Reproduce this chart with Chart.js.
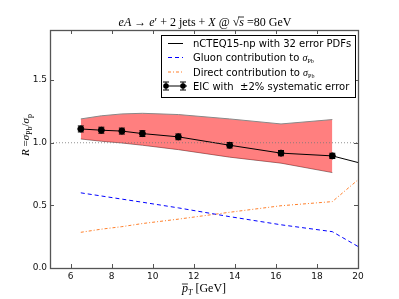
<!DOCTYPE html>
<html>
<head>
<meta charset="utf-8">
<script src="https://cdn.jsdelivr.net/npm/chart.js@4"></script>
<style>
  body { margin: 0; background: #fff; }
  canvas { display: block; }
</style>
</head>
<body>
<canvas id="chart" width="399" height="299"></canvas>
<script>
// pT bin centres and the ratio curves
const ptBins = [6.5, 7.5, 8.5, 9.5, 11.25, 13.75, 16.25, 18.75];
const ptLine = [6.5, 7.5, 8.5, 9.5, 11.25, 13.75, 16.25, 18.75, 20];
const rCentral = [1.11, 1.10, 1.093, 1.073, 1.047, 0.98, 0.917, 0.895, 0.842];
const rUpper = [1.19, 1.215, 1.23, 1.235, 1.225, 1.19, 1.15, 1.185];
const rLower = [1.03, 1.012, 0.998, 0.98, 0.945, 0.885, 0.837, 0.762];
const gluon = [0.6, 0.575, 0.55, 0.525, 0.48, 0.41, 0.345, 0.29, 0.172];
const direct = [0.285, 0.31, 0.33, 0.355, 0.39, 0.445, 0.497, 0.53, 0.704];
const eicR = [1.11, 1.10, 1.093, 1.073, 1.047, 0.98, 0.917, 0.895];
const eicErr = [0.024, 0.024, 0.024, 0.023, 0.023, 0.022, 0.021, 0.021];
const xTicks = [6, 8, 10, 12, 14, 16, 18, 20];
const yTicks = [0, 0.5, 1.0, 1.5];

const SERIF = '"Liberation Serif", "DejaVu Serif", serif';
const SANS = '"DejaVu Sans", sans-serif';

const pts = (xs, ys) => xs.map((x, i) => ({ x: x, y: ys[i] }));

// draw a run of text pieces (italic / sub / overline) one after another
function drawRich(ctx, segs, x, y, align) {
  let total = 0;
  segs.forEach(s => {
    ctx.font = s.font;
    s.w = ctx.measureText(s.t).width;
    total += s.w;
  });
  let cx = align === 'center' ? x - total / 2 : x;
  segs.forEach(s => {
    ctx.font = s.font;
    ctx.fillText(s.t, cx, y + (s.dy || 0));
    if (s.over) {
      ctx.beginPath();
      ctx.moveTo(cx - (s.overPad || 0), y + s.over);
      ctx.lineTo(cx + s.w, y + s.over);
      ctx.lineWidth = 0.8;
      ctx.stroke();
    }
    cx += s.w;
  });
}

const decor = {
  id: 'decor',
  afterDatasetsDraw(chart) {
    const { ctx, chartArea: a, scales: { x, y } } = chart;
    ctx.save();
    // dotted line at R = 1
    ctx.strokeStyle = '#777';
    ctx.lineWidth = 0.8;
    ctx.setLineDash([1, 2]);
    ctx.beginPath();
    ctx.moveTo(a.left, y.getPixelForValue(1));
    ctx.lineTo(a.right, y.getPixelForValue(1));
    ctx.stroke();
    ctx.setLineDash([]);

    // error bars on EIC points
    ctx.strokeStyle = '#000';
    ctx.lineWidth = 1;
    ptBins.forEach((v, i) => {
      const px = x.getPixelForValue(v);
      const y1 = y.getPixelForValue(eicR[i] + eicErr[i]);
      const y2 = y.getPixelForValue(eicR[i] - eicErr[i]);
      ctx.beginPath();
      ctx.moveTo(px, y1); ctx.lineTo(px, y2);
      ctx.moveTo(px - 3, y1); ctx.lineTo(px + 3, y1);
      ctx.moveTo(px - 3, y2); ctx.lineTo(px + 3, y2);
      ctx.stroke();
    });
    ctx.restore();
  },
  afterDraw(chart) {
    const { ctx, chartArea: a, scales: { x, y } } = chart;
    ctx.save();
    // frame
    ctx.strokeStyle = '#555';
    ctx.lineWidth = 1.3;
    ctx.strokeRect(a.left + 0.5, a.top + 0.5, a.right - a.left, a.bottom - a.top);
    // inward ticks on all four sides
    ctx.lineWidth = 1;
    ctx.beginPath();
    xTicks.forEach(v => {
      const px = Math.round(x.getPixelForValue(v)) + 0.5;
      ctx.moveTo(px, a.bottom); ctx.lineTo(px, a.bottom - 4);
      ctx.moveTo(px, a.top); ctx.lineTo(px, a.top + 4);
    });
    yTicks.forEach(v => {
      const py = Math.round(y.getPixelForValue(v)) + 0.5;
      ctx.moveTo(a.left, py); ctx.lineTo(a.left + 4, py);
      ctx.moveTo(a.right, py); ctx.lineTo(a.right - 4, py);
    });
    ctx.stroke();

    ctx.fillStyle = '#000';
    ctx.strokeStyle = '#000';
    ctx.textBaseline = 'alphabetic';

    // title
    const rm = '12px ' + SERIF;
    const iti = 'italic 12px ' + SERIF;
    drawRich(ctx, [
      { t: 'eA', font: iti }, { t: ' → ', font: rm }, { t: 'e', font: iti }, { t: '′', font: rm },
      { t: ' + 2 jets + ', font: rm }, { t: 'X', font: iti }, { t: ' @ ', font: rm },
      { t: '√', font: rm }, { t: 's', font: iti, over: -9, overPad: 1 }, { t: ' =80 GeV', font: rm }
    ], 205, 26, 'center');

    // x label
    drawRich(ctx, [
      { t: 'p', font: 'italic 12px ' + SERIF, over: -8 }, { t: 'T', font: 'italic 8px ' + SERIF, dy: 3 },
      { t: ' [GeV]', font: '12px ' + SERIF }
    ], 204, 292, 'center');

    // y label (rotated)
    ctx.save();
    ctx.translate(29, 135);
    ctx.rotate(-Math.PI / 2);
    drawRich(ctx, [
      { t: 'R', font: 'italic 11px ' + SERIF }, { t: ' =', font: '11px ' + SERIF },
      { t: 'σ', font: 'italic 11px ' + SERIF }, { t: 'Pb', font: '8px ' + SERIF, dy: 3 },
      { t: '/', font: '11px ' + SERIF },
      { t: 'σ', font: 'italic 11px ' + SERIF }, { t: 'p', font: '8px ' + SERIF, dy: 3 }
    ], 0, 0, 'center');
    ctx.restore();

    // legend
    const lx = 161, ly = 35, lw = 194, lh = 62;
    ctx.fillStyle = '#fff';
    ctx.fillRect(lx, ly, lw, lh);
    ctx.strokeStyle = '#000';
    ctx.lineWidth = 1;
    ctx.strokeRect(lx + 0.5, ly + 0.5, lw, lh);
    const rows = [43.5, 57.5, 72, 86];
    const hx1 = 168, hx2 = 183, tx = 193;
    // solid
    ctx.strokeStyle = '#000';
    ctx.beginPath(); ctx.moveTo(hx1, rows[0]); ctx.lineTo(hx2, rows[0]); ctx.stroke();
    // dashed
    ctx.strokeStyle = '#0000ff';
    ctx.setLineDash([4, 3]);
    ctx.beginPath(); ctx.moveTo(hx1, rows[1]); ctx.lineTo(hx2, rows[1]); ctx.stroke();
    // dash dot
    ctx.strokeStyle = '#ff7f2a';
    ctx.setLineDash([3, 2, 1, 2]);
    ctx.beginPath(); ctx.moveTo(hx1, rows[2]); ctx.lineTo(hx2, rows[2]); ctx.stroke();
    ctx.setLineDash([]);
    // errorbar markers
    ctx.strokeStyle = '#000';
    ctx.fillStyle = '#000';
    ctx.beginPath(); ctx.moveTo(hx1 - 4, rows[3]); ctx.lineTo(hx2 + 4, rows[3]); ctx.stroke();
    [hx1 - 2, hx2].forEach(px => {
      ctx.beginPath();
      ctx.moveTo(px, rows[3] - 4); ctx.lineTo(px, rows[3] + 4);
      ctx.moveTo(px - 3, rows[3] - 4); ctx.lineTo(px + 3, rows[3] - 4);
      ctx.moveTo(px - 3, rows[3] + 4); ctx.lineTo(px + 3, rows[3] + 4);
      ctx.stroke();
      ctx.beginPath(); ctx.arc(px, rows[3], 2.8, 0, Math.PI * 2); ctx.fill();
    });

    const lf = '10px ' + SANS;
    const sig = 'italic 10px ' + SERIF, sub = '6px ' + SERIF;
    drawRich(ctx, [{ t: 'nCTEQ15-np with 32 error PDFs', font: lf }], tx, rows[0] + 3.5);
    drawRich(ctx, [{ t: 'Gluon contribution to ', font: lf }, { t: 'σ', font: sig }, { t: 'Pb', font: sub, dy: 2 }], tx, rows[1] + 3.5);
    drawRich(ctx, [{ t: 'Direct contribution to ', font: lf }, { t: 'σ', font: sig }, { t: 'Pb', font: sub, dy: 2 }], tx, rows[2] + 3.5);
    drawRich(ctx, [{ t: 'EIC with  ±2% systematic error', font: lf }], tx, rows[3] + 3.5);
    ctx.restore();
  }
};

new Chart(document.getElementById('chart'), {
  type: 'line',
  data: {
    datasets: [
      {
        label: 'upper',
        data: pts(ptBins, rUpper),
        borderColor: '#888',
        borderWidth: 1,
        pointRadius: 0,
        fill: '+1',
        backgroundColor: 'rgba(255,0,0,0.5)',
        order: 5
      },
      {
        label: 'lower',
        data: pts(ptBins, rLower),
        borderColor: '#888',
        borderWidth: 1,
        pointRadius: 0,
        fill: false,
        order: 5
      },
      {
        label: 'nCTEQ15-np with 32 error PDFs',
        data: pts(ptLine, rCentral),
        borderColor: '#000',
        borderWidth: 1,
        pointRadius: 0,
        fill: false,
        order: 2
      },
      {
        label: 'Gluon contribution',
        data: pts(ptLine, gluon),
        borderColor: '#0000ff',
        borderWidth: 1,
        borderDash: [4, 3],
        pointRadius: 0,
        fill: false,
        order: 3
      },
      {
        label: 'Direct contribution',
        data: pts(ptLine, direct),
        borderColor: '#ff7f2a',
        borderWidth: 1,
        borderDash: [3, 2, 1, 2],
        pointRadius: 0,
        fill: false,
        order: 3
      },
      {
        label: 'EIC',
        data: pts(ptBins, eicR),
        showLine: false,
        pointRadius: 3,
        pointBackgroundColor: '#000',
        pointBorderColor: '#000',
        order: 1
      }
    ]
  },
  options: {
    responsive: false,
    animation: false,
    devicePixelRatio: 1,
    layout: { padding: { top: 30, right: 41, left: 0, bottom: 0 } },
    plugins: { legend: { display: false }, tooltip: { enabled: false }, title: { display: false } },
    scales: {
      x: {
        type: 'linear',
        min: 5,
        max: 20,
        afterBuildTicks: s => { s.ticks = xTicks.map(v => ({ value: v })); },
        afterFit: s => { s.height = 31; },
        grid: { display: false, drawTicks: false },
        border: { display: false },
        ticks: { color: '#111', font: { family: SANS, size: 9 }, padding: 3, maxRotation: 0 }
      },
      y: {
        min: 0,
        max: 1.9,
        afterBuildTicks: s => { s.ticks = yTicks.map(v => ({ value: v })); },
        afterFit: s => { s.width = 50; },
        grid: { display: false, drawTicks: false },
        border: { display: false },
        ticks: { color: '#111', font: { family: SANS, size: 9 }, padding: 3, callback: v => v.toFixed(1) }
      }
    }
  },
  plugins: [decor]
});
</script>
</body>
</html>
